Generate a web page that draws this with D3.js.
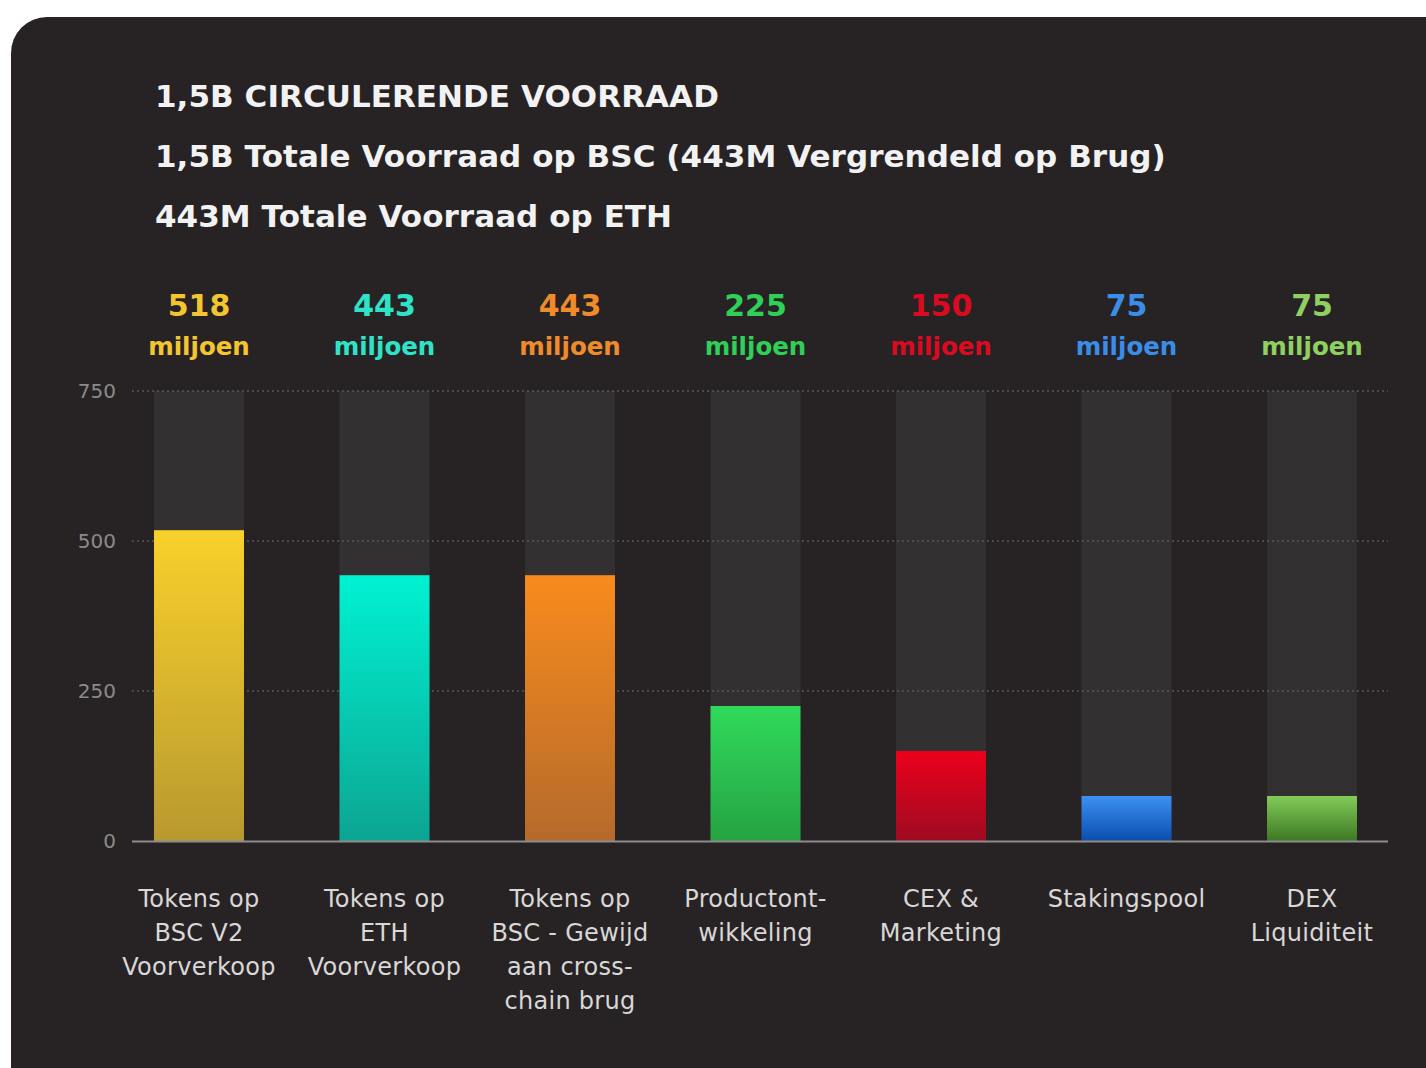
<!DOCTYPE html>
<html><head><meta charset="utf-8">
<script src="https://cdn.jsdelivr.net/npm/d3@7"></script>
<style>html,body{margin:0;padding:0;background:#fff;}svg{display:block;}</style>
</head><body>
<svg id="chart" width="1426" height="1068"></svg>
<script>
const titles = [
  "1,5B CIRCULERENDE VOORRAAD",
  "1,5B Totale Voorraad op BSC (443M Vergrendeld op Brug)",
  "443M Totale Voorraad op ETH"
];
const categories = [
  ["Tokens op","BSC V2","Voorverkoop"],
  ["Tokens op","ETH","Voorverkoop"],
  ["Tokens op","BSC - Gewijd","aan cross-","chain brug"],
  ["Productont-","wikkeling"],
  ["CEX &","Marketing"],
  ["Stakingspool"],
  ["DEX","Liquiditeit"]
];
const values = [518, 443, 443, 225, 150, 75, 75];
const unitLabel = "miljoen";
const yTicks = [0, 250, 500, 750];
const yMax = 750;
const labelColors = ["#f3c531","#2fe3c9","#f08b2b","#2fcf58","#dc0a20","#3a8de9","#8fd062"];
const barTop = ["#f8d12b","#00f2d2","#f88b1d","#30da5b","#ec001b","#3c90f2","#82cc58"];
const barBottom = ["#b8992f","#0ca592","#b56a2b","#26a343","#9e0b22","#0b4eae","#3d7823"];

const svg = d3.select("#chart");
const defs = svg.append("defs");
values.forEach((v,i)=>{
  const g = defs.append("linearGradient").attr("id","g"+i).attr("x1",0).attr("y1",0).attr("x2",0).attr("y2",1);
  g.append("stop").attr("offset","0%").attr("stop-color",barTop[i]);
  g.append("stop").attr("offset","100%").attr("stop-color",barBottom[i]);
});

// panel
svg.append("rect").attr("x",11).attr("y",17).attr("width",1460).attr("height",1100)
  .attr("rx",36).attr("fill","#272324");

const font = "'DejaVu Sans', sans-serif";

// titles
svg.selectAll("text.title").data(titles).join("text")
  .attr("class","title")
  .attr("x",155).attr("y",(d,i)=>96+i*60)
  .attr("dy","0.36em")
  .attr("font-family",font).attr("font-weight","bold")
  .attr("font-size",31).attr("letter-spacing",0.05).attr("fill","#f2f2f2")
  .text(d=>d);

const x = d3.scaleBand().domain(d3.range(values.length))
  .range([106.25, 1404.75]).paddingInner(0.515).paddingOuter(0.2575);
const y = d3.scaleLinear().domain([0,yMax]).range([841,391]);

// background columns
svg.selectAll("rect.bg").data(values).join("rect")
  .attr("class","bg")
  .attr("x",(d,i)=>x(i)).attr("width",x.bandwidth())
  .attr("y",y(yMax)).attr("height",y(0)-y(yMax))
  .attr("fill","#333031");

// grid
const grid = svg.append("g");
grid.selectAll("line").data(yTicks.filter(t=>t>0)).join("line")
  .attr("x1",132).attr("x2",1388)
  .attr("y1",d=>y(d)).attr("y2",d=>y(d))
  .attr("stroke","#5a5758").attr("stroke-width",1.5).attr("stroke-dasharray","2,3");

// bars
svg.selectAll("rect.bar").data(values).join("rect")
  .attr("class","bar")
  .attr("x",(d,i)=>x(i)).attr("width",x.bandwidth())
  .attr("y",d=>y(d)).attr("height",d=>y(0)-y(d))
  .attr("fill",(d,i)=>`url(#g${i})`);

// y axis
const yAxis = d3.axisLeft(y).tickValues(yTicks).tickSize(0).tickPadding(0);
const ya = svg.append("g").attr("transform","translate(116,0)").call(yAxis);
ya.select(".domain").remove();
ya.selectAll("text").attr("font-family",font).attr("font-size",20).attr("fill","#8c8a8a");

// baseline
svg.append("line").attr("x1",132).attr("x2",1388).attr("y1",y(0)+0.5).attr("y2",y(0)+0.5)
  .attr("stroke","#8d8b8c").attr("stroke-width",2);

// value labels
const vl = svg.selectAll("g.vl").data(values).join("g").attr("class","vl")
  .attr("transform",(d,i)=>`translate(${x(i)+x.bandwidth()/2},0)`);
vl.append("text").attr("y",305).attr("dy","0.36em").attr("text-anchor","middle")
  .attr("font-family",font).attr("font-weight","bold").attr("font-size",30)
  .attr("fill",(d,i)=>labelColors[i]).text(d=>d);
vl.append("text").attr("y",346).attr("dy","0.36em").attr("text-anchor","middle")
  .attr("font-family",font).attr("font-weight","bold").attr("font-size",24.5)
  .attr("fill",(d,i)=>labelColors[i]).text(unitLabel);

// category labels
const cl = svg.selectAll("text.cat").data(categories).join("text").attr("class","cat")
  .attr("text-anchor","middle")
  .attr("font-family",font).attr("font-size",24).attr("letter-spacing",0.3).attr("fill","#d9d7d7");
cl.each(function(lines,i){
  d3.select(this).selectAll("tspan").data(lines).join("tspan")
    .attr("x",x(i)+x.bandwidth()/2)
    .attr("y",(d,j)=>898+j*34).attr("dy","0.36em").text(d=>d);
});
</script>
</body></html>
